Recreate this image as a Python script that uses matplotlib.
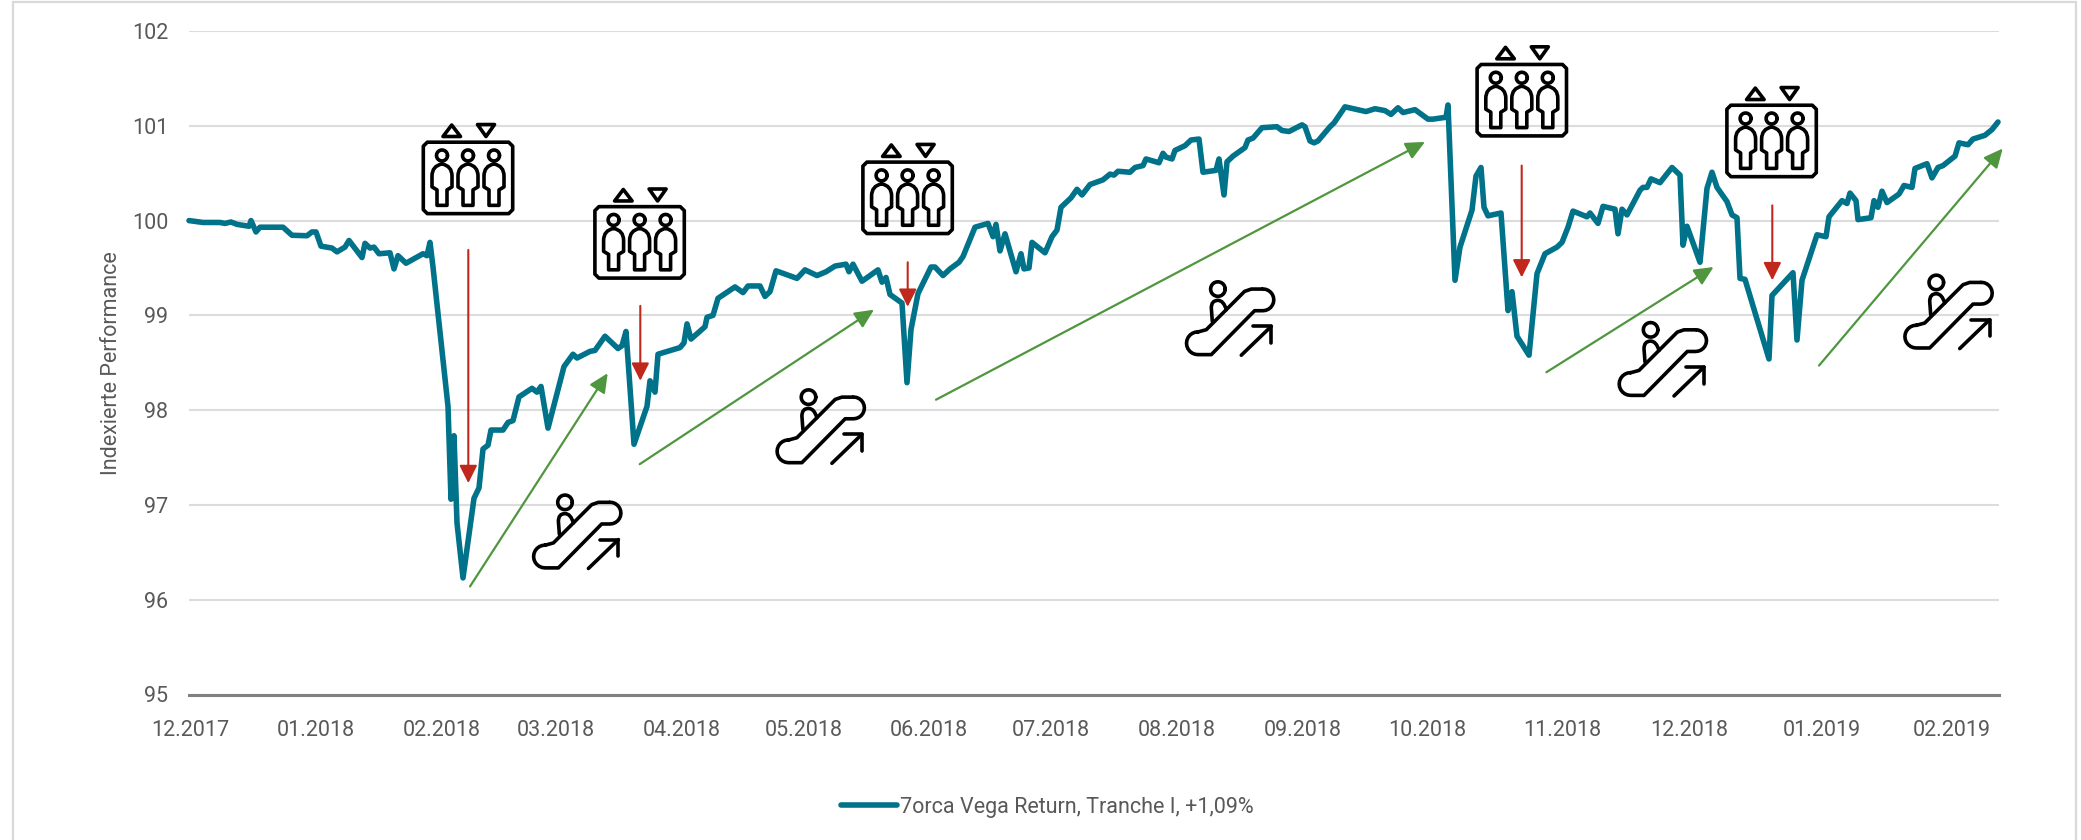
import math
import matplotlib
matplotlib.use('Agg')
import matplotlib.pyplot as plt
from matplotlib.path import Path
from matplotlib.patches import PathPatch, Rectangle

plt.rcParams['font.family'] = ['Roboto', 'DejaVu Sans']

x_vals = [0, 14, 31, 36, 42, 48, 60, 62, 67, 71, 94, 103, 118, 123, 127, 132, 143, 148, 156, 160,
          173, 176, 181, 185, 190, 201, 205, 209, 217, 234, 238, 241, 244, 259, 262, 265, 268, 274,
          285, 290, 294, 299, 302, 314, 319, 324, 330, 343, 348, 352, 359, 375, 384, 388, 401, 406,
          416, 429, 433, 437, 445, 458, 461, 466, 469, 491, 495, 498, 502, 516, 518, 524, 529, 546,
          554, 559, 571, 576, 581, 587, 608, 616, 628, 637, 646, 657, 660, 664, 673, 689, 693, 697,
          701, 713, 718, 722, 729, 742, 746, 754, 761, 770, 774, 786, 799, 804, 807, 811, 816, 827,
          832, 835, 840, 843, 856, 863, 868, 872, 882, 888, 893, 901, 914, 921, 925, 929, 941, 946,
          954, 957, 970, 974, 977, 983, 986, 996, 1002, 1010, 1014, 1027, 1030, 1035, 1038, 1044,
          1056, 1059, 1064, 1073, 1088, 1093, 1100, 1113, 1116, 1121, 1125, 1129, 1141, 1145, 1156,
          1177, 1186, 1196, 1202, 1209, 1214, 1226, 1239, 1244, 1257, 1259, 1266, 1271, 1283, 1287,
          1292, 1295, 1299, 1312, 1319, 1323, 1328, 1340, 1348, 1356, 1368, 1373, 1379, 1384, 1398,
          1401, 1409, 1414, 1426, 1429, 1433, 1438, 1451, 1454, 1458, 1462, 1471, 1483, 1491, 1494,
          1498, 1511, 1518, 1523, 1528, 1538, 1543, 1548, 1551, 1556, 1580, 1583, 1604, 1608, 1613,
          1628, 1637, 1640, 1653, 1658, 1661, 1667, 1669, 1682, 1685, 1689, 1693, 1698, 1710, 1715,
          1723, 1726, 1738, 1743, 1749, 1754, 1766, 1770, 1779, 1784, 1796, 1803, 1809]
performance = [100.00, 99.98, 99.98, 99.97, 99.985, 99.96, 99.94, 100.00, 99.88, 99.93, 99.93, 99.845,
               99.84, 99.88, 99.88, 99.73, 99.71, 99.67, 99.72, 99.79, 99.61, 99.76, 99.71, 99.72,
               99.65, 99.66, 99.49, 99.63, 99.55, 99.65, 99.63, 99.77, 99.51, 98.04, 97.06, 97.73,
               96.81, 96.23, 97.07, 97.18, 97.59, 97.63, 97.79, 97.79, 97.87, 97.89, 98.14, 98.23,
               98.19, 98.25, 97.81, 98.46, 98.59, 98.55, 98.62, 98.63, 98.78, 98.65, 98.68, 98.83,
               97.64, 98.04, 98.31, 98.19, 98.59, 98.66, 98.71, 98.91, 98.75, 98.88, 98.98, 99.00,
               99.18, 99.30, 99.24, 99.31, 99.31, 99.20, 99.25, 99.47, 99.39, 99.48, 99.42, 99.46,
               99.52, 99.54, 99.46, 99.54, 99.36, 99.48, 99.35, 99.40, 99.22, 99.13, 98.29, 98.85,
               99.23, 99.51, 99.51, 99.42, 99.49, 99.56, 99.62, 99.93, 99.97, 99.83, 99.96, 99.68,
               99.86, 99.46, 99.65, 99.49, 99.50, 99.77, 99.66, 99.83, 99.90, 100.14, 100.24, 100.33,
               100.27, 100.38, 100.43, 100.49, 100.48, 100.52, 100.51, 100.56, 100.58, 100.65, 100.61,
               100.71, 100.67, 100.65, 100.74, 100.79, 100.85, 100.86, 100.51, 100.53, 100.65, 100.27,
               100.62, 100.68, 100.77, 100.85, 100.87, 100.98, 100.99, 100.95, 100.94, 101.01, 100.99,
               100.84, 100.82, 100.84, 100.99, 101.03, 101.20, 101.15, 101.18, 101.16, 101.12, 101.19,
               101.14, 101.17, 101.07, 101.07, 101.09, 101.22, 99.37, 99.72, 100.11, 100.47, 100.56,
               100.14, 100.05, 100.08, 99.05, 99.25, 98.78, 98.58, 99.44, 99.65, 99.72, 99.77, 99.93,
               100.10, 100.04, 100.08, 99.97, 100.15, 100.12, 99.86, 100.12, 100.06, 100.32, 100.35,
               100.35, 100.44, 100.40, 100.56, 100.48, 99.74, 99.94, 99.56, 100.34, 100.51, 100.35,
               100.20, 100.06, 100.03, 99.39, 99.38, 98.54, 99.21, 99.45, 98.74, 99.37, 99.85, 99.83,
               100.04, 100.21, 100.18, 100.29, 100.21, 100.01, 100.03, 100.21, 100.14, 100.31, 100.19,
               100.28, 100.37, 100.35, 100.55, 100.60, 100.45, 100.56, 100.58, 100.68, 100.82, 100.80,
               100.86, 100.90, 100.96, 101.04]

month_ticks = [1, 127, 253, 367, 493, 615, 740, 862, 988, 1114, 1238, 1373, 1500, 1633, 1763]
month_labels = ['12.2017', '01.2018', '02.2018', '03.2018', '04.2018', '05.2018', '06.2018', '07.2018',
                '08.2018', '09.2018', '10.2018', '11.2018', '12.2018', '01.2019', '02.2019']
y_ticks = [95, 96, 97, 98, 99, 100, 101, 102]

# (x, from, to) of the red falls and (x0, y0, x1, y1) of the green climbs
red_arrows = [(279.3, 99.69, 97.23), (451.3, 99.10, 98.31), (718.7, 99.56, 99.09),
              (1332.7, 100.58, 99.40), (1583.3, 100.16, 99.37)]
green_arrows = [(281, 96.14, 418.7, 98.39), (450.7, 97.43, 685, 99.06), (747, 98.11, 1236, 100.83),
                (1357.4, 98.40, 1524.6, 99.51), (1630, 98.47, 1813.7, 100.76)]
elevators = [(279, 100.45), (450.6, 99.77), (718.6, 100.24), (1332.8, 101.27), (1582.6, 100.84)]
escalators = [(387.7, 96.68), (631.2, 97.79), (1040.6, 98.93), (1473.3, 98.50), (1759, 99.00)]

TEAL = '#00728a'
TEXT = '#595959'
PX_PER_UNIT = 95.0  # pixels per index point, icons are drawn in pixels around their centre
ICON_LW = 2.6


def add_path(ax, cx, cy, verts, codes=None, closed=False):
    pts = [(cx + dx, cy - dy / PX_PER_UNIT) for dx, dy in verts]
    if codes is None:
        codes = [Path.MOVETO] + [Path.LINETO] * (len(pts) - 1)
    if closed:
        pts.append(pts[0])
        codes = list(codes) + [Path.CLOSEPOLY]
    ax.add_patch(PathPatch(Path(pts, codes), fc='none', ec='black', lw=ICON_LW, zorder=6,
                           capstyle='round', joinstyle='round', clip_on=False))


def arc_points(cx, cy, rx, ry, t0, t1, n=24):
    # circle as points, the axes are not square so Circle patches would be squashed
    out = []
    for i in range(n + 1):
        t = math.radians(t0 + (t1 - t0) * i / n)
        out.append((cx + rx * math.cos(t), cy + ry * math.sin(t)))
    return out


def draw_elevator(ax, cx, cy):
    w, h, r = 44.7, 35.8, 4
    box = [(-w + r, -h), (w - r, -h), (w, -h + r), (w, h - r), (w - r, h), (-w + r, h), (-w, h - r), (-w, -h + r)]
    add_path(ax, cx, cy, box, closed=True)
    add_path(ax, cx, cy, [(-25, -41.5), (-7.5, -41.5), (-16.3, -53)], closed=True)
    add_path(ax, cx, cy, [(9.5, -53.5), (26.5, -53.5), (18, -41.5)], closed=True)
    for dx in (-26, 0, 26):
        add_path(ax, cx, cy, arc_points(dx, -22.5, 5.5, 5.5, 0, 360))
        body = [(dx, -14), (dx + 10, -12), (dx + 10, -2), (dx + 10, 9), (dx + 5, 12), (dx + 5, 27.5),
                (dx - 5, 27.5), (dx - 5, 12), (dx - 10, 9), (dx - 10, -2), (dx - 10, -12), (dx, -14)]
        codes = [Path.MOVETO, Path.CURVE3, Path.CURVE3, Path.LINETO, Path.LINETO, Path.LINETO,
                 Path.LINETO, Path.LINETO, Path.LINETO, Path.LINETO, Path.CURVE3, Path.CURVE3]
        add_path(ax, cx, cy, body, codes)


def draw_escalator(ax, cx, cy):
    rail = [(-31.7, 10), (-23.3, 7.7), (15, -30.7), (21.7, -33), (33.3, -33)]
    rail += arc_points(33.3, -22.2, 10.9, 10.9, -90, 90, 12)
    rail += [(25, -11.3), (-18.3, 32.7), (-31.7, 32.7)]
    rail += arc_points(-31.7, 21.3, 11.4, 11.4, 90, 270, 12)
    add_path(ax, cx, cy, rail)
    add_path(ax, cx, cy, arc_points(-11.7, -33, 7.3, 7.3, 0, 360))
    body = [(-17.3, -0.7), (-18.3, -14), (-18.3, -21.7), (-11.7, -21.7), (-6, -21.7), (-3.3, -12.3)]
    codes = [Path.MOVETO, Path.LINETO, Path.CURVE3, Path.CURVE3, Path.CURVE3, Path.CURVE3]
    add_path(ax, cx, cy, body, codes)
    add_path(ax, cx, cy, [(11.7, 33.3), (41.7, 4.3)])
    add_path(ax, cx, cy, [(23.3, 4.3), (41.7, 4.3), (41.7, 21)])


fig = plt.figure(figsize=(20.81, 8.4), dpi=100)
ax = fig.add_axes([189 / 2081, 1 - 694.5 / 840, 1810 / 2081, 663.5 / 840])

# outer chart frame
fig.add_artist(Rectangle((12.5 / 2081, -0.05), (2076 - 12.5) / 2081, 1.05 - 2 / 840, transform=fig.transFigure,
                         fc='none', ec='#d9d9d9', lw=1.6))

line, = ax.plot(x_vals, performance, color=TEAL, lw=4.0, solid_joinstyle='round', solid_capstyle='round',
                label='7orca Vega Return, Tranche I, +1,09%', zorder=3, clip_on=False)

ax.set_xlim(0, 1810)
ax.set_ylim(95, 102)
ax.set_yticks(y_ticks)
ax.set_xticks(month_ticks)
ax.set_xticklabels(month_labels)
ax.tick_params(axis='both', length=0, labelsize=15.5, labelcolor=TEXT)
ax.tick_params(axis='y', pad=15)
ax.tick_params(axis='x', pad=18)
ax.set_ylabel('Indexierte Performance', fontsize=15.5, color=TEXT, labelpad=7)
ax.yaxis.grid(True, color='#dcdcdc', lw=1.5, zorder=0)
ax.set_axisbelow(True)
for name in ['top', 'right', 'left']:
    ax.spines[name].set_visible(False)
ax.spines['bottom'].set_color('#808080')
ax.spines['bottom'].set_linewidth(2.2)

for x, y0, y1 in red_arrows:
    ax.annotate('', xy=(x, y1), xytext=(x, y0), zorder=5, annotation_clip=False,
                arrowprops=dict(arrowstyle='-|>,head_length=1.08,head_width=0.54', mutation_scale=10,
                                color='#c0281c', lw=1.5, shrinkA=0, shrinkB=0))
for x0, y0, x1, y1 in green_arrows:
    ax.annotate('', xy=(x1, y1), xytext=(x0, y0), zorder=5, annotation_clip=False,
                arrowprops=dict(arrowstyle='-|>,head_length=1.15,head_width=0.54', mutation_scale=10,
                                color='#4f963f', lw=1.6, shrinkA=0, shrinkB=0))

for cx, cy in elevators:
    draw_elevator(ax, cx, cy)
for cx, cy in escalators:
    draw_escalator(ax, cx, cy)

fig.legend(handles=[line], loc='center', bbox_to_anchor=(1047 / 2081, 1 - 807 / 840), frameon=False,
           fontsize=15.5, labelcolor=TEXT, handlelength=2.6, handletextpad=0.15, borderpad=0)

fig.savefig('out.png', dpi=100, facecolor='white')
